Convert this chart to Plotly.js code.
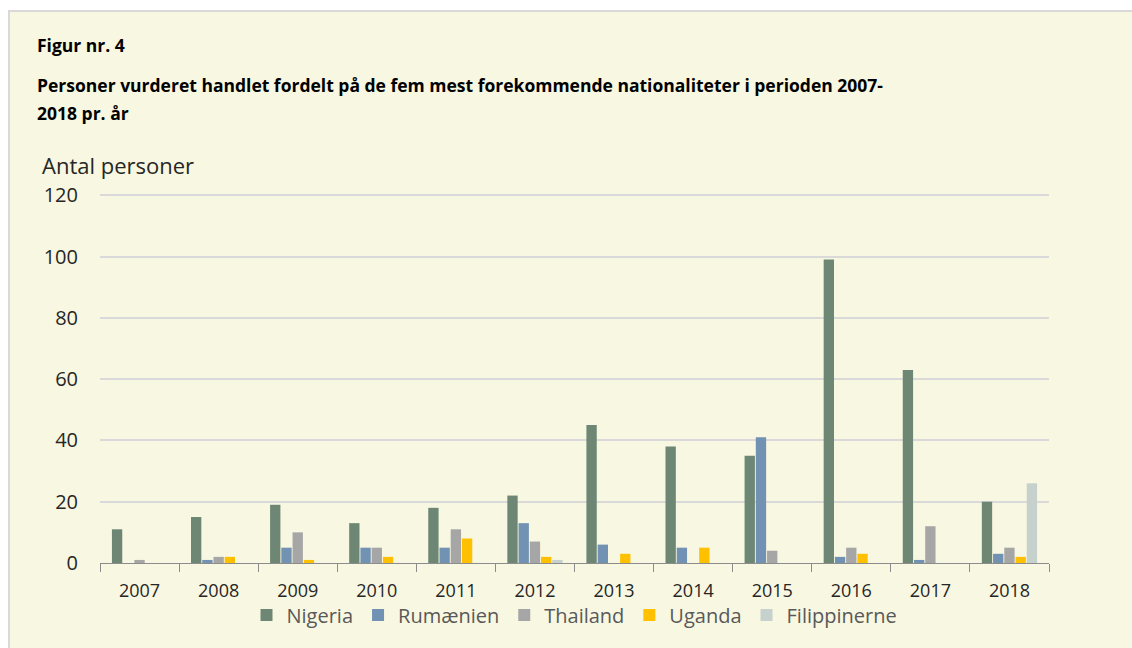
<!DOCTYPE html>
<html>
<head>
<meta charset="utf-8">
<script src="https://cdn.plot.ly/plotly-3.0.1.min.js"></script>
<style>
  html, body { margin: 0; padding: 0; background: #ffffff; width: 1132px; height: 648px; overflow: hidden; }
  #frame { position: absolute; left: 8px; top: 10px; width: 1124px; height: 638px; border-left: 2px solid #d9d9d9; border-top: 2px solid #d9d9d9; background: #f8f7e1; }
  #chart { position: absolute; left: 0; top: 0; width: 1124px; height: 638px; }
</style>
</head>
<body>
<div id="frame"><div id="chart"></div></div>
<script>
const years = ["2007","2008","2009","2010","2011","2012","2013","2014","2015","2016","2017","2018"];
const nigeria      = [11, 15, 19, 13, 18, 22, 45, 38, 35, 99, 63, 20];
const rumaenien    = [0, 1, 5, 5, 5, 13, 6, 5, 41, 2, 1, 3];
const thailand     = [1, 2, 10, 5, 11, 7, 0, 0, 4, 5, 12, 5];
const uganda       = [0, 2, 1, 2, 8, 2, 3, 5, 0, 3, 0, 2];
const filippinerne = [0, 0, 0, 0, 0, 1, 0, 0, 0, 0, 0, 26];
const seriesNames  = ["Nigeria", "Rumænien", "Thailand", "Uganda", "Filippinerne"];
const seriesColors = ["#6d8774", "#7292b3", "#a6a6a6", "#ffc000", "#c6d0cc"];
const seriesValues = [nigeria, rumaenien, thailand, uganda, filippinerne];
const yTicks = [0, 20, 40, 60, 80, 100, 120];

const W = 1124, H = 638;
const M = {l: 90, r: 85, t: 182, b: 87};
const plotW = W - M.l - M.r, plotH = H - M.t - M.b;
// helpers converting frame pixel positions to paper coords
const px = x => (x - M.l) / plotW;
const py = y => (H - M.b - y) / plotH;

const traces = seriesNames.map((name, i) => ({
  type: "bar",
  name: name,
  x: years,
  y: seriesValues[i],
  marker: {color: seriesColors[i]},
  hoverinfo: "skip"
}));

const font = "'Open Sans', 'Liberation Sans', Arial, sans-serif";

const layout = {
  width: W, height: H,
  margin: M,
  paper_bgcolor: "#f8f7e1",
  plot_bgcolor: "#f8f7e1",
  barmode: "group",
  bargap: 0.29,
  bargroupgap: 0.08,
  showlegend: true,
  legend: {
    orientation: "h",
    x: 0.5, xanchor: "center",
    y: py(603), yanchor: "middle",
    font: {family: font, size: 20, color: "#595959"},
    itemwidth: 30,
    traceorder: "normal",
    bgcolor: "rgba(0,0,0,0)"
  },
  xaxis: {
    type: "category",
    tickson: "boundaries",
    ticks: "outside",
    ticklen: 8,
    tickcolor: "#8c8c8c",
    showline: true,
    linecolor: "#8c8c8c",
    linewidth: 1,
    showgrid: false,
    ticklabelstandoff: 11,
    tickfont: {family: font, size: 18, color: "#262626"},
    fixedrange: true
  },
  yaxis: {
    range: [0, 120.4],
    tickvals: yTicks,
    ticktext: yTicks.map(String),
    showgrid: true,
    gridcolor: "#d9d9d9",
    gridwidth: 2,
    zeroline: false,
    showline: false,
    ticks: "",
    ticklabelstandoff: 21,
    tickfont: {family: font, size: 20, color: "#262626"},
    fixedrange: true
  },
  annotations: [
    {text: "<b>Figur nr. 4</b>", xref: "paper", yref: "paper", x: px(25), y: py(33), xanchor: "left", yanchor: "middle", showarrow: false, font: {family: font, size: 17.5, color: "#000000"}},
    {text: "<b>Personer vurderet handlet fordelt på de fem mest forekommende nationaliteter i perioden 2007-</b>", xref: "paper", yref: "paper", x: px(25), y: py(73), xanchor: "left", yanchor: "middle", showarrow: false, font: {family: font, size: 17.5, color: "#000000"}},
    {text: "<b>2018 pr. år</b>", xref: "paper", yref: "paper", x: px(25), y: py(101), xanchor: "left", yanchor: "middle", showarrow: false, font: {family: font, size: 17.5, color: "#000000"}},
    {text: "Antal personer", xref: "paper", yref: "paper", x: px(30), y: py(153), xanchor: "left", yanchor: "middle", showarrow: false, font: {family: font, size: 22, color: "#262626"}}
  ]
};

Plotly.newPlot("chart", traces, layout, {displayModeBar: false, staticPlot: true});
</script>
</body>
</html>
